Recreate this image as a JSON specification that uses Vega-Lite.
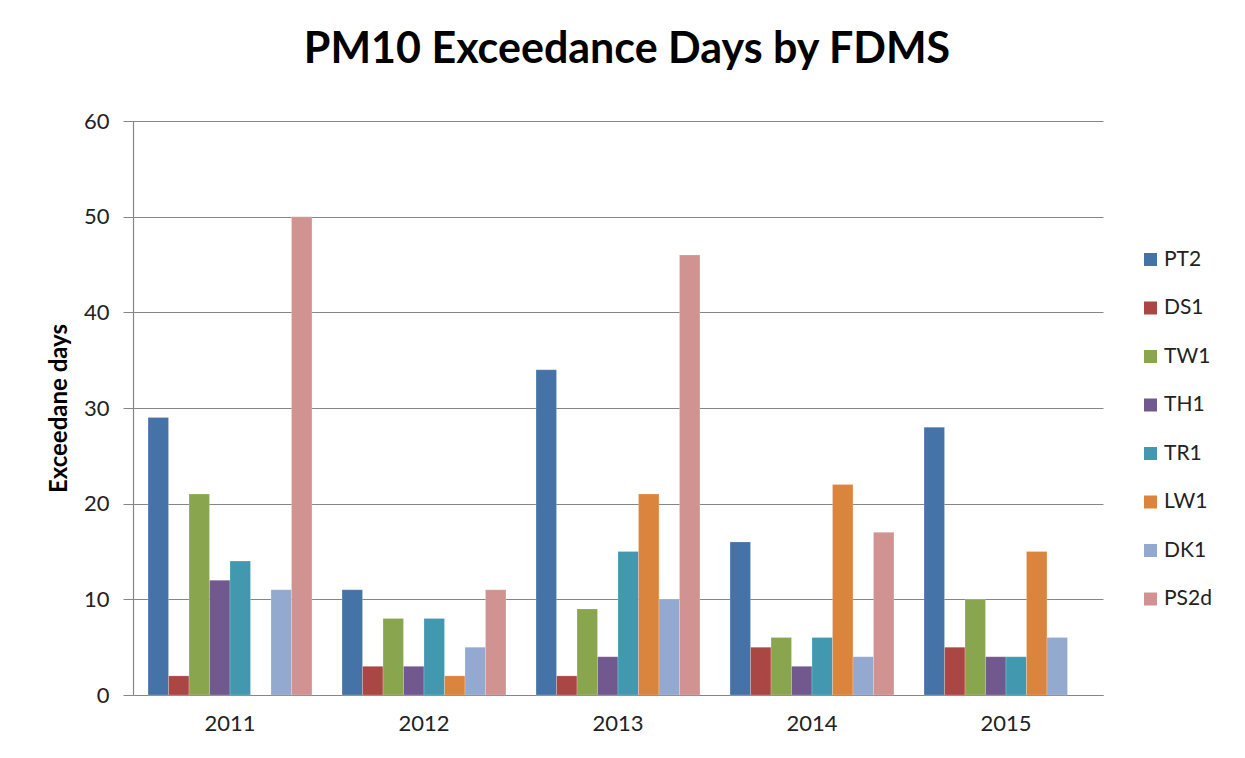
{
  "$schema": "https://vega.github.io/schema/vega-lite/v6.json",
  "width": 970,
  "height": 574,
  "padding": {"left": 133, "top": 121, "right": 142, "bottom": 63},
  "autosize": {"type": "none"},
  "background": "white",
  "title": {
    "text": "PM10 Exceedance Days by FDMS",
    "font": "Lato",
    "fontSize": 43,
    "fontWeight": "bold",
    "color": "#000000",
    "anchor": "middle",
    "offset": 38,
    "dx": 9
  },
  "data": {
    "values": [
      {"year": "2011", "site": "PT2", "days": 29},
      {"year": "2011", "site": "DS1", "days": 2},
      {"year": "2011", "site": "TW1", "days": 21},
      {"year": "2011", "site": "TH1", "days": 12},
      {"year": "2011", "site": "TR1", "days": 14},
      {"year": "2011", "site": "DK1", "days": 11},
      {"year": "2011", "site": "PS2d", "days": 50},
      {"year": "2012", "site": "PT2", "days": 11},
      {"year": "2012", "site": "DS1", "days": 3},
      {"year": "2012", "site": "TW1", "days": 8},
      {"year": "2012", "site": "TH1", "days": 3},
      {"year": "2012", "site": "TR1", "days": 8},
      {"year": "2012", "site": "LW1", "days": 2},
      {"year": "2012", "site": "DK1", "days": 5},
      {"year": "2012", "site": "PS2d", "days": 11},
      {"year": "2013", "site": "PT2", "days": 34},
      {"year": "2013", "site": "DS1", "days": 2},
      {"year": "2013", "site": "TW1", "days": 9},
      {"year": "2013", "site": "TH1", "days": 4},
      {"year": "2013", "site": "TR1", "days": 15},
      {"year": "2013", "site": "LW1", "days": 21},
      {"year": "2013", "site": "DK1", "days": 10},
      {"year": "2013", "site": "PS2d", "days": 46},
      {"year": "2014", "site": "PT2", "days": 16},
      {"year": "2014", "site": "DS1", "days": 5},
      {"year": "2014", "site": "TW1", "days": 6},
      {"year": "2014", "site": "TH1", "days": 3},
      {"year": "2014", "site": "TR1", "days": 6},
      {"year": "2014", "site": "LW1", "days": 22},
      {"year": "2014", "site": "DK1", "days": 4},
      {"year": "2014", "site": "PS2d", "days": 17},
      {"year": "2015", "site": "PT2", "days": 28},
      {"year": "2015", "site": "DS1", "days": 5},
      {"year": "2015", "site": "TW1", "days": 10},
      {"year": "2015", "site": "TH1", "days": 4},
      {"year": "2015", "site": "TR1", "days": 4},
      {"year": "2015", "site": "LW1", "days": 15},
      {"year": "2015", "site": "DK1", "days": 6}
    ]
  },
  "mark": {"type": "bar", "stroke": "#ffffff", "strokeOpacity": 0.35, "strokeWidth": 0.6},
  "encoding": {
    "x": {
      "field": "year",
      "type": "nominal",
      "scale": {"paddingInner": 0.155, "paddingOuter": 0.0775},
      "axis": {
        "title": null,
        "labelAngle": 0,
        "labelFont": "Lato",
        "labelFontSize": 22,
        "labelColor": "#222222",
        "labelPadding": 18,
        "ticks": false,
        "domainColor": "#868686",
        "domainWidth": 1.2,
        "grid": false
      }
    },
    "xOffset": {
      "field": "site",
      "type": "nominal",
      "sort": ["PT2", "DS1", "TW1", "TH1", "TR1", "LW1", "DK1", "PS2d"],
      "scale": {"paddingInner": 0, "paddingOuter": 0}
    },
    "y": {
      "field": "days",
      "type": "quantitative",
      "scale": {"domain": [0, 60], "nice": false},
      "axis": {
        "title": "Exceedane days",
        "titleFont": "Lato",
        "titleFontSize": 24,
        "titleFontWeight": "bold",
        "titleColor": "#000000",
        "titlePadding": 12,
        "values": [0, 10, 20, 30, 40, 50, 60],
        "labelFont": "Lato",
        "labelFontSize": 22,
        "labelColor": "#222222",
        "labelPadding": 14,
        "tickSize": 10,
        "tickColor": "#868686",
        "domainColor": "#868686",
        "domainWidth": 1.2,
        "grid": true,
        "gridColor": "#868686",
        "gridWidth": 1
      }
    },
    "color": {
      "field": "site",
      "type": "nominal",
      "sort": ["PT2", "DS1", "TW1", "TH1", "TR1", "LW1", "DK1", "PS2d"],
      "scale": {
        "domain": ["PT2", "DS1", "TW1", "TH1", "TR1", "LW1", "DK1", "PS2d"],
        "range": ["#4572A7", "#AA4643", "#89A54E", "#71588F", "#4198AF", "#DB843D", "#93A9CF", "#D19392"]
      },
      "legend": {
        "title": null,
        "orient": "none",
        "legendX": 1007,
        "legendY": 128,
        "symbolType": "square",
        "symbolSize": 169,
        "symbolStrokeWidth": 0,
        "symbolOpacity": 1,
        "labelFont": "Lato",
        "labelFontSize": 21,
        "labelColor": "#222222",
        "labelOffset": 3,
        "rowPadding": 26.5
      }
    }
  },
  "config": {"view": {"stroke": null}}
}
